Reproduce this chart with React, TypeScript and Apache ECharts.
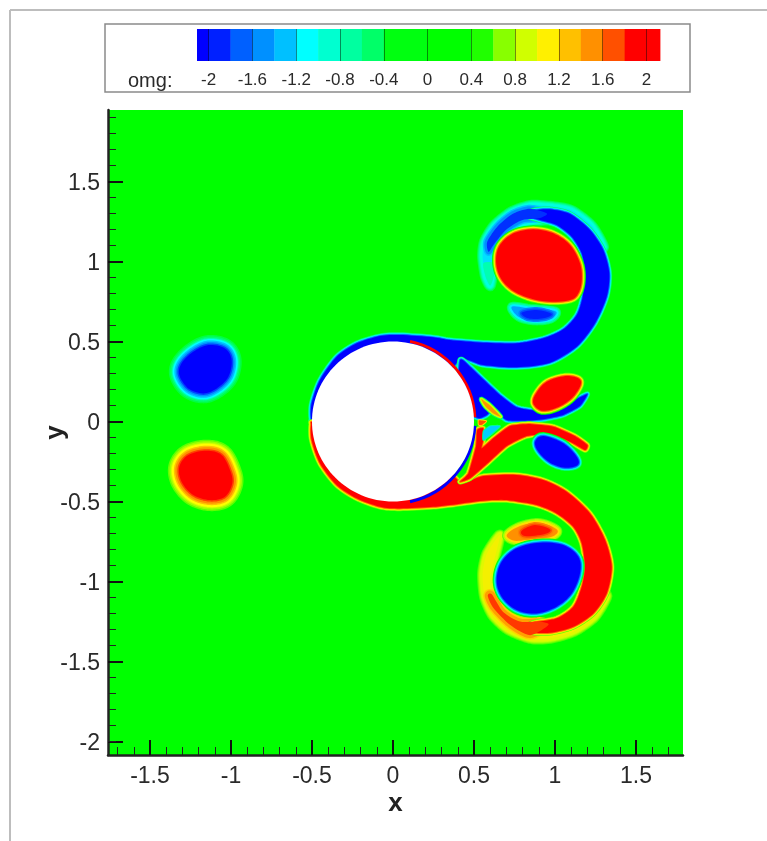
import React, { useEffect, useRef } from "react";
import * as echarts from "echarts";

type P = [number, number];

// axis ticks
const xMajor = [-1.5, -1, -0.5, 0, 0.5, 1, 1.5];
const yMajor = [-2, -1.5, -1, -0.5, 0, 0.5, 1, 1.5];
const xMinor = [-1.7, -1.6, -1.4, -1.3, -1.2, -1.1, -0.9, -0.8, -0.7, -0.6, -0.4, -0.3, -0.2, -0.1, 0.1, 0.2, 0.3, 0.4, 0.6, 0.7, 0.8, 0.9, 1.1, 1.2, 1.3, 1.4, 1.6, 1.7];
const yMinor = [-2.0, -1.9, -1.8, -1.7, -1.6, -1.4, -1.3, -1.2, -1.1, -0.9, -0.8, -0.7, -0.6, -0.4, -0.3, -0.2, -0.1, 0.1, 0.2, 0.3, 0.4, 0.6, 0.7, 0.8, 0.9, 1.1, 1.2, 1.3, 1.4, 1.6, 1.7, 1.8, 1.9];

// colour bar
const barEdges = [-2.106, -2, -1.8, -1.6, -1.4, -1.2, -1, -0.8, -0.6, -0.4, 0, 0.4, 0.6, 0.8, 1, 1.2, 1.4, 1.6, 1.8, 2, 2.123];
const barColors = ["#0000ff", "#0020ff", "#0060ff", "#0090ff", "#00c0ff", "#00ffff", "#00ffd0", "#00ffa0", "#00ff68", "#00ff10", "#00ff00", "#20ff00", "#88ff00", "#d0ff00", "#fff000", "#ffc000", "#ff9000", "#ff5000", "#ff0000", "#ff0000"];
const barLabels = [-2, -1.6, -1.2, -0.8, -0.4, 0, 0.4, 0.8, 1.2, 1.6, 2];

// cylinder
const cylinder = { cx: 0, cy: 0, r: 0.5 };
// thin vorticity sheets on the cylinder wall: [from deg, to deg, colour]
const wallSheets: [number, number, string][] = [
  [78, 3, "#ff0000"],
  [-3, -78, "#0000ff"],
];

// vorticity contours, in x / y
const leftBlue: P[] = [[-1.14, 0.478], [-1.037, 0.457], [-0.996, 0.384], [-1.016, 0.28], [-1.088, 0.207], [-1.171, 0.176], [-1.263, 0.207], [-1.319, 0.291], [-1.305, 0.364], [-1.233, 0.436]];
const leftRed: P[] = [[-1.15, -0.182], [-1.058, -0.209], [-1.006, -0.303], [-0.992, -0.386], [-1.037, -0.47], [-1.13, -0.491], [-1.233, -0.459], [-1.305, -0.376], [-1.319, -0.283], [-1.263, -0.209]];

const topCore: P[] = [[0.866, 1.201], [0.99, 1.176], [1.093, 1.103], [1.154, 0.989], [1.165, 0.884], [1.144, 0.801], [1.093, 0.759], [0.969, 0.749], [0.846, 0.77], [0.733, 0.822], [0.66, 0.905], [0.636, 1.009], [0.66, 1.103], [0.743, 1.176]];
const bottomCore: P[] = [[0.907, -0.757], [1.051, -0.772], [1.144, -0.845], [1.154, -0.949], [1.103, -1.074], [1.01, -1.157], [0.887, -1.199], [0.763, -1.178], [0.671, -1.095], [0.64, -0.991], [0.671, -0.876], [0.763, -0.792]];

const topSheet: P[] = [[-0.505, 0.02], [-0.502, 0.114], [-0.451, 0.259], [-0.348, 0.405], [-0.224, 0.489], [-0.08, 0.534], [0.043, 0.541], [0.249, 0.526], [0.352, 0.509], [0.557, 0.493], [0.763, 0.489], [0.928, 0.52], [1.051, 0.576], [1.134, 0.666], [1.171, 0.78], [1.185, 0.926], [1.165, 1.051], [1.103, 1.155], [1.01, 1.228], [0.907, 1.259], [0.835, 1.284], [0.866, 1.318], [0.969, 1.326], [1.093, 1.297], [1.216, 1.197], [1.298, 1.072], [1.335, 0.926], [1.319, 0.78], [1.247, 0.614], [1.134, 0.468], [0.969, 0.368], [0.763, 0.339], [0.557, 0.353], [0.414, 0.384], [0.25, 0.2], [-0.2, 0], [-0.48, 0]];
const bottomSheet: P[] = [[-0.505, -0.02], [-0.502, -0.116], [-0.451, -0.261], [-0.348, -0.397], [-0.224, -0.48], [-0.08, -0.533], [0.043, -0.543], [0.249, -0.533], [0.352, -0.522], [0.557, -0.495], [0.702, -0.491], [0.887, -0.522], [1.01, -0.574], [1.113, -0.658], [1.165, -0.761], [1.185, -0.908], [1.165, -1.033], [1.113, -1.157], [1.01, -1.23], [0.856, -1.261], [0.846, -1.314], [0.969, -1.32], [1.113, -1.283], [1.237, -1.199], [1.319, -1.074], [1.35, -0.908], [1.309, -0.741], [1.216, -0.574], [1.072, -0.439], [0.928, -0.366], [0.763, -0.334], [0.557, -0.341], [0.414, -0.376], [0.25, -0.2], [-0.2, 0], [-0.48, 0]];

const topTail: P[] = [[0.414, 0.384], [0.475, 0.343], [0.557, 0.264], [0.66, 0.166], [0.763, 0.089], [0.887, 0.068], [1.01, 0.082], [1.113, 0.13], [1.2, 0.172], [1.154, 0.097], [1.051, 0.041], [0.928, 0.014], [0.804, 0.005], [0.702, 0.009], [0.619, 0.072], [0.578, 0.04], [0.525, 0.022], [0.4, 0.1]];
const bottomTail: P[] = [[0.414, -0.376], [0.475, -0.355], [0.578, -0.266], [0.702, -0.153], [0.825, -0.091], [0.969, -0.078], [1.093, -0.126], [1.185, -0.178], [1.2, -0.147], [1.123, -0.091], [0.99, -0.032], [0.846, -0.016], [0.722, -0.028], [0.619, -0.105], [0.547, -0.168], [0.557, -0.116], [0.557, -0.043], [0.52, -0.053], [0.512, -0.157], [0.465, -0.324]];

const topFade: P[] = [[1.3, 1.09], [1.225, 1.225], [1.1, 1.32], [0.969, 1.345], [0.846, 1.35], [0.73, 1.31], [0.625, 1.225], [0.565, 1.125], [0.553, 1.03], [0.57, 0.91], [0.6, 0.85], [0.615, 0.93], [0.619, 0.989], [0.63, 1.093], [0.702, 1.186], [0.804, 1.239], [0.969, 1.259], [1.1, 1.2], [1.23, 1.1]];
const topFadeLow: P[] = [[0.558, 0.99], [0.57, 0.91], [0.6, 0.85], [0.625, 0.92], [0.625, 0.99]];
const topFadeMid: P[] = [[0.95, 1.3], [0.846, 1.33], [0.743, 1.3], [0.65, 1.225], [0.582, 1.125], [0.59, 1.06], [0.625, 1.11], [0.7, 1.2], [0.8, 1.26], [0.9, 1.27]];
const bottomFade: P[] = [[1.32, -1.09], [1.245, -1.22], [1.12, -1.31], [0.969, -1.355], [0.846, -1.355], [0.71, -1.3], [0.615, -1.21], [0.565, -1.095], [0.553, -0.949], [0.58, -0.824], [0.66, -0.709], [0.625, -0.866], [0.6, -0.991], [0.62, -1.116], [0.722, -1.22], [0.866, -1.261], [1.01, -1.27], [1.12, -1.22], [1.25, -1.08]];
const bottomFadeMid: P[] = [[0.96, -1.27], [0.846, -1.335], [0.722, -1.27], [0.62, -1.165], [0.585, -1.09], [0.61, -1.08], [0.68, -1.19], [0.784, -1.25], [0.9, -1.25]];

const topLobe: P[] = [[0.733, 0.718], [0.846, 0.707], [0.969, 0.697], [1.01, 0.68], [0.969, 0.639], [0.866, 0.63], [0.774, 0.655]];
const topLobeCore: P[] = [[0.794, 0.68], [0.887, 0.697], [0.98, 0.672], [0.928, 0.645], [0.835, 0.645]];
const bottomLobe: P[] = [[0.702, -0.709], [0.784, -0.653], [0.907, -0.632], [1.014, -0.678], [0.98, -0.72], [0.866, -0.734], [0.753, -0.745]];
const bottomLobeCore: P[] = [[0.794, -0.682], [0.877, -0.647], [0.969, -0.674], [0.938, -0.703], [0.815, -0.716]];

const upperIsland: P[] = [[1.062, 0.284], [1.144, 0.27], [1.158, 0.228], [1.103, 0.145], [1.01, 0.086], [0.918, 0.068], [0.866, 0.114], [0.883, 0.176], [0.949, 0.249]];
const lowerIsland: P[] = [[0.877, -0.126], [0.928, -0.091], [1.051, -0.136], [1.134, -0.22], [1.14, -0.272], [1.062, -0.289], [0.969, -0.257], [0.897, -0.188]];

const nearSliver: P[] = [[0.545, 0.14], [0.6, 0.1], [0.665, 0.03], [0.62, 0.05], [0.57, 0.095]];
const cyanSliver: P[] = [[0.56, -0.115], [0.66, -0.03], [0.6, -0.03], [0.56, -0.06]];
const centerSpot: P[] = [[0.53, 0.008], [0.575, 0.002], [0.55, -0.02], [0.53, -0.02]];

const thinBlue: [number, string][] = [[5.5, "#00ff60"], [4.5, "#00ffa0"], [3.5, "#00ffff"], [2.5, "#00b0ff"], [1.5, "#0060ff"]];
const thinRed: [number, string][] = [[5.5, "#60ff00"], [4.5, "#a0ff00"], [3.5, "#ffff00"], [2.5, "#ffb000"], [1.5, "#ff6000"]];
const coreBlue: [number, string][] = [[8, "#00ff00"], [6.5, "#00ff60"], [5, "#00ffc0"], [4, "#00ffff"], [3, "#00b0ff"], [1.8, "#0060ff"]];
const coreRed: [number, string][] = [[8, "#00ff00"], [6.5, "#60ff00"], [5, "#c0ff00"], [4, "#ffff00"], [3, "#ffb000"], [1.8, "#ff6000"]];

type Layer = { pts: P[]; fill: string; edge: [number, string][]; tension?: number };
const layers: Layer[] = [
  { pts: topFade, fill: "#00e0ff", edge: [[11, "#00ff50"], [9, "#00ff90"], [7, "#00ffc0"], [5, "#00ffe0"]], tension: 0.35 },
  { pts: topFadeLow, fill: "#00ffb0", edge: [], tension: 0.4 },
  { pts: topFadeMid, fill: "#00a0ff", edge: [[8, "#00c0ff"], [5, "#0090ff"]], tension: 0.4 },
  { pts: bottomFade, fill: "#f4f000", edge: [[11, "#50ff00"], [9, "#90ff00"], [7, "#c0ff00"], [5, "#e0f800"]], tension: 0.35 },
  { pts: bottomFadeMid, fill: "#ffa000", edge: [[9, "#ffd000"], [6, "#ffa000"]], tension: 0.4 },
  { pts: topSheet, fill: "#0000ff", edge: thinBlue, tension: 0.4 },
  { pts: bottomSheet, fill: "#ff0000", edge: thinRed, tension: 0.4 },
  { pts: topFadeMid, fill: "#0030ff", edge: [], tension: 0.4 },
  { pts: bottomFadeMid, fill: "#ff3800", edge: [], tension: 0.4 },
  { pts: topTail, fill: "#0000ff", edge: thinBlue, tension: 0.25 },
  { pts: bottomTail, fill: "#ff0000", edge: thinRed, tension: 0.25 },
  { pts: topLobe, fill: "#00a0ff", edge: [[9, "#00ff60"], [7, "#00ffa0"], [4, "#00f0ff"]] },
  { pts: topLobeCore, fill: "#0020ff", edge: [[6, "#0080ff"], [3, "#0050ff"]] },
  { pts: bottomLobe, fill: "#ff9000", edge: [[9, "#60ff00"], [7, "#b0ff00"], [4, "#ffe000"]] },
  { pts: bottomLobeCore, fill: "#ff1000", edge: [[6, "#ff8000"], [3, "#ff5000"]] },
  { pts: topCore, fill: "#ff0000", edge: coreRed },
  { pts: bottomCore, fill: "#0000ff", edge: coreBlue },
  { pts: upperIsland, fill: "#ff0000", edge: coreRed },
  { pts: lowerIsland, fill: "#0000ff", edge: coreBlue },
  { pts: leftBlue, fill: "#0000ff", edge: [[20, "#00ff40"], [17, "#00ff70"], [14, "#00ffb0"], [12, "#00ffff"], [9, "#00c0ff"], [6, "#0090ff"], [3, "#0040ff"]] },
  { pts: leftRed, fill: "#ff0000", edge: [[22, "#60ff00"], [19, "#a0ff00"], [16, "#d0ff00"], [14, "#ffff00"], [10, "#ffc000"], [7, "#ff9000"], [3, "#ff4000"]] },
  { pts: nearSliver, fill: "#ff9000", edge: [[5, "#00ff60"], [3, "#d0ff00"]], tension: 0.3 },
  { pts: cyanSliver, fill: "#00d0ff", edge: [[2, "#00ff90"]], tension: 0.2 },
  { pts: centerSpot, fill: "#ff5000", edge: [[2, "#ffe000"]], tension: 0.2 },
];

const FONT = "Liberation Sans";
const xRange = [-1.759, 1.79];
const yRange = [-2.084, 1.947];

// closed cardinal spline through the projected contour points, for drawing only
function outline(pts: number[][], tension: number): number[][] {
  const n = pts.length;
  const out: number[][] = [];
  for (let i = 0; i < n; i++) {
    const p0 = pts[(i - 1 + n) % n], p1 = pts[i], p2 = pts[(i + 1) % n], p3 = pts[(i + 2) % n];
    for (let k = 0; k < 8; k++) {
      const t = k / 8, t2 = t * t, t3 = t2 * t;
      const a = 2 * t3 - 3 * t2 + 1, b = t3 - 2 * t2 + t, c = -2 * t3 + 3 * t2, d = t3 - t2;
      out.push([0, 1].map((j) =>
        a * p1[j] + b * tension * (p2[j] - p0[j]) + c * p2[j] + d * tension * (p3[j] - p1[j])
      ));
    }
  }
  return out;
}

export default function App() {
  const ref = useRef<HTMLDivElement>(null);
  useEffect(() => {
    const chart = echarts.init(ref.current!, undefined, { renderer: "svg" });

    const contourItem = (params: any, api: any) => {
      const l = layers[params.dataIndex];
      const points = outline(l.pts.map((p) => api.coord(p)), l.tension ?? 0.5);
      const children: any[] = l.edge.map(([w, c]) => ({
        type: "polygon",
        shape: { points },
        style: { fill: "none", stroke: c, lineWidth: w, lineJoin: "round" },
      }));
      children.push({ type: "polygon", shape: { points }, style: { fill: l.fill } });
      return { type: "group", children };
    };

    const cylinderItem = (_: any, api: any) => {
      const c = api.coord([cylinder.cx, cylinder.cy]);
      const s = api.size([cylinder.r, cylinder.r]);
      const sheets = wallSheets.map(([a, b, color]) => ({
        type: "arc",
        shape: {
          cx: c[0],
          cy: c[1],
          r: s[0] * 1.012,
          startAngle: (-a * Math.PI) / 180,
          endAngle: (-b * Math.PI) / 180,
          clockwise: true,
        },
        style: { fill: "none", stroke: color, lineWidth: 3 },
      }));
      return {
        type: "group",
        children: [
          ...sheets,
          { type: "ellipse", shape: { cx: c[0], cy: c[1], rx: s[0], ry: s[1] }, style: { fill: "#ffffff" } },
        ],
      };
    };

    const barItem = (params: any, api: any) => {
      const i = params.dataIndex;
      const p0 = api.coord([barEdges[i], 1]);
      const p1 = api.coord([barEdges[i + 1], 0]);
      return {
        type: "rect",
        shape: { x: p0[0], y: p0[1], width: p1[0] - p0[0] + 0.4, height: p1[1] - p0[1] },
        style: { fill: barColors[i] },
      };
    };

    const tickLine = { color: "#111", width: 2 };
    chart.setOption({
      animation: false,
      textStyle: { fontFamily: FONT },
      grid: [
        { left: 108, top: 110, width: 575, height: 645, show: true, backgroundColor: "#00ff00", borderWidth: 0, z: 1 },
        { left: 197, top: 29, width: 463, height: 32, z: 3 },
      ],
      xAxis: [
        {
          type: "value", gridIndex: 0, position: "bottom", min: xRange[0], max: xRange[1], z: 4,
          name: "x", nameLocation: "middle", nameGap: 34, nameMoveOverlap: false,
          nameTextStyle: { fontFamily: FONT, fontWeight: "bold", fontSize: 26, color: "#222" },
          splitLine: { show: false },
          axisLine: { show: true, onZero: false, lineStyle: { color: "#222", width: 2.5 } },
          axisTick: { show: true, inside: true, length: 15, customValues: xMajor, lineStyle: tickLine },
          axisLabel: { customValues: xMajor, fontFamily: FONT, fontSize: 23, color: "#2a2a2a", margin: 8, hideOverlap: false, showMinLabel: true, showMaxLabel: true },
        },
        {
          type: "value", gridIndex: 0, position: "bottom", min: xRange[0], max: xRange[1], z: 4,
          splitLine: { show: false },
          axisLine: { show: false, onZero: false },
          axisTick: { show: true, inside: true, length: 8, customValues: xMinor, lineStyle: { color: "#222", width: 1 } },
          axisLabel: { show: false },
        },
        {
          type: "value", gridIndex: 1, position: "bottom", min: barEdges[0], max: barEdges[barEdges.length - 1], z: 5,
          splitLine: { show: false },
          axisLine: { show: false, onZero: false },
          axisTick: { show: true, inside: true, length: 32, customValues: barLabels, lineStyle: { color: "rgba(0,0,0,0.45)", width: 1 } },
          axisLabel: { customValues: barLabels, fontFamily: FONT, fontSize: 17, color: "#2a2a2a", margin: 10, hideOverlap: false },
        },
      ],
      yAxis: [
        {
          type: "value", gridIndex: 0, position: "left", min: yRange[0], max: yRange[1], z: 4,
          name: "y", nameLocation: "middle", nameGap: 41, nameMoveOverlap: false,
          nameTextStyle: { fontFamily: FONT, fontWeight: "bold", fontSize: 26, color: "#222" },
          splitLine: { show: false },
          axisLine: { show: true, onZero: false, lineStyle: { color: "#222", width: 2.5 } },
          axisTick: { show: true, inside: true, length: 15, customValues: yMajor, lineStyle: tickLine },
          axisLabel: { customValues: yMajor, fontFamily: FONT, fontSize: 23, color: "#2a2a2a", margin: 8, hideOverlap: false },
        },
        {
          type: "value", gridIndex: 0, position: "left", min: yRange[0], max: yRange[1], z: 4,
          splitLine: { show: false },
          axisLine: { show: false, onZero: false },
          axisTick: { show: true, inside: true, length: 8, customValues: yMinor, lineStyle: { color: "#222", width: 1 } },
          axisLabel: { show: false },
        },
        {
          type: "value", gridIndex: 1, min: 0, max: 1, show: false,
        },
      ],
      graphic: [
        { type: "line", silent: true, z: 0, shape: { x1: 10, y1: 10, x2: 767, y2: 10 }, style: { stroke: "#bdbdbd", lineWidth: 2 } },
        { type: "line", silent: true, z: 0, shape: { x1: 10, y1: 10, x2: 10, y2: 841 }, style: { stroke: "#bdbdbd", lineWidth: 2 } },
        { type: "rect", silent: true, z: 0, shape: { x: 105, y: 24, width: 585, height: 68 }, style: { fill: "#ffffff", stroke: "#8a8a8a", lineWidth: 1.5 } },
        { type: "text", silent: true, z: 10, x: 128, y: 80, style: { text: "omg:", fontFamily: FONT, fontSize: 20, fill: "#2a2a2a", textVerticalAlign: "middle" } },
      ],
      series: [
        {
          type: "custom", name: "contours", xAxisIndex: 0, yAxisIndex: 0, z: 2, clip: true,
          renderItem: contourItem,
          data: layers.map((_, i) => [i, 0]),
          silent: true,
        },
        {
          type: "custom", name: "cylinder", xAxisIndex: 0, yAxisIndex: 0, z: 3,
          renderItem: cylinderItem,
          data: [[cylinder.cx, cylinder.cy]],
          silent: true,
        },
        {
          type: "custom", name: "colorbar", xAxisIndex: 2, yAxisIndex: 2, z: 3,
          renderItem: barItem,
          data: barColors.map((_, i) => [barEdges[i], 0]),
          silent: true,
        },
      ],
    });
    return () => chart.dispose();
  }, []);
  return (
    <div
      ref={ref}
      style={{ position: "absolute", left: 0, top: 0, width: 767, height: 841, background: "#fff", filter: "blur(0.7px)" }}
    />
  );
}
